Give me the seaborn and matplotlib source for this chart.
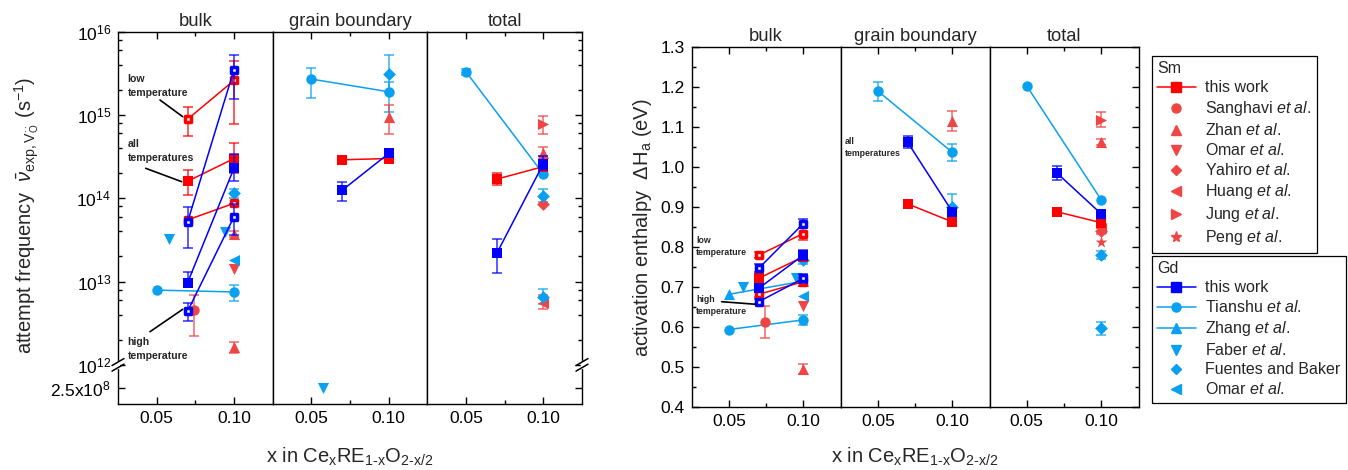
import numpy as np
import matplotlib
matplotlib.use('Agg')
import matplotlib.pyplot as plt
from matplotlib.lines import Line2D
from matplotlib.ticker import FixedLocator, FixedFormatter, FormatStrFormatter, MultipleLocator
import seaborn as sns

# ---------------- data ----------------
# x positions (mole fraction)
x_tw = [0.07, 0.10]          # this work
x_ts = [0.05, 0.10]          # Tianshu / Zhang
x_010 = [0.10]
x_010b = [0.10, 0.10]
x_sanghavi = [0.074]
x_faber_nu = [0.058, 0.094]
x_faber_gb = [0.0575]
x_faber_dh = [0.0597, 0.0948]

# attempt frequency (s^-1) -- bulk
nu_bulk_sm_low = [8.9e14, 2.6e15]
nu_bulk_sm_low_lo = [5.6e14, 7.9e14]
nu_bulk_sm_low_hi = [1.24e15, 4.5e15]
nu_bulk_sm_all = [1.6e14, 3.0e14]
nu_bulk_sm_all_lo = [1.1e14, 2.0e14]
nu_bulk_sm_all_hi = [2.2e14, 4.6e14]
nu_bulk_sm_high = [5.5e13, 8.7e13]
nu_bulk_gd_low = [5.2e13, 3.5e15]
nu_bulk_gd_low_lo = [2.5e13, 1.55e15]
nu_bulk_gd_low_hi = [7.8e13, 5.3e15]
nu_bulk_gd_all = [9.7e12, 2.3e14]
nu_bulk_gd_all_lo = [8.5e12, 1.6e14]
nu_bulk_gd_all_hi = [1.3e13, 3.4e14]
nu_bulk_gd_high = [4.4e12, 6.0e13]
nu_bulk_gd_high_lo = [3.4e12, 3.6e13]
nu_bulk_gd_high_hi = [5.5e12, 8.5e13]
nu_bulk_tianshu = [7.9e12, 7.5e12]
nu_bulk_tianshu_lo = [7.9e12, 5.8e12]
nu_bulk_tianshu_hi = [7.9e12, 9.1e12]
nu_bulk_sanghavi = [4.6e12]
nu_bulk_sanghavi_lo = [2.2e12]
nu_bulk_sanghavi_hi = [6.9e12]
nu_bulk_zhan = [3.7e13, 1.65e12]
nu_bulk_zhan_lo = [3.4e13, 1.4e12]
nu_bulk_zhan_hi = [4.1e13, 1.9e12]
nu_bulk_omar_sm = [1.4e13]
nu_bulk_faber = [3.2e13, 3.9e13]
nu_bulk_fuentes = [1.15e14]
nu_bulk_fuentes_lo = [1.0e14]
nu_bulk_fuentes_hi = [1.3e14]
nu_bulk_omar_gd = [1.8e13]

# attempt frequency -- grain boundary
nu_gb_sm = [2.9e14, 3.0e14]
nu_gb_sm_lo = [2.6e14, 3.0e14]
nu_gb_sm_hi = [3.2e14, 3.0e14]
nu_gb_gd = [1.25e14, 3.45e14]
nu_gb_gd_lo = [9.4e13, 3.45e14]
nu_gb_gd_hi = [1.55e14, 3.45e14]
nu_gb_tianshu = [2.7e15, 1.9e15]
nu_gb_tianshu_lo = [1.6e15, 1.1e15]
nu_gb_tianshu_hi = [3.7e15, 2.5e15]
nu_gb_fuentes = [3.1e15]
nu_gb_fuentes_lo = [1.9e15]
nu_gb_fuentes_hi = [5.2e15]
nu_gb_zhan = [9.5e14]
nu_gb_zhan_lo = [5.9e14]
nu_gb_zhan_hi = [1.3e15]
nu_gb_faber = [2.5e8]

# attempt frequency -- total
nu_tot_sm = [1.7e14, 2.4e14]
nu_tot_sm_lo = [1.45e14, 2.4e14]
nu_tot_sm_hi = [2.0e14, 2.4e14]
nu_tot_gd = [2.2e13, 2.6e14]
nu_tot_gd_lo = [1.26e13, 2.2e14]
nu_tot_gd_hi = [3.2e13, 3.2e14]
nu_tot_tianshu = [3.3e15, 1.95e14]
nu_tot_tianshu_lo = [3.0e15, 1.95e14]
nu_tot_tianshu_hi = [3.6e15, 1.95e14]
nu_tot_jung = [7.8e14]
nu_tot_jung_lo = [5.9e14]
nu_tot_jung_hi = [9.6e14]
nu_tot_zhan = [3.5e14]
nu_tot_zhan_lo = [3.2e14]
nu_tot_zhan_hi = [4.1e14]
nu_tot_fuentes = [1.07e14, 6.5e12]
nu_tot_fuentes_lo = [8.9e13, 5.4e12]
nu_tot_fuentes_hi = [1.3e14, 8.1e12]
nu_tot_yahiro = [8.6e13]
nu_tot_huang = [5.5e12]
nu_tot_huang_lo = [4.7e12]
nu_tot_huang_hi = [6.9e12]

nu_ticks = [2.5e8, 1e12, 1e13, 1e14, 1e15, 1e16]
nu_ticklabels = ['2.5x10$^8$', '10$^{12}$', '10$^{13}$', '10$^{14}$', '10$^{15}$', '10$^{16}$']

# activation enthalpy (eV) -- bulk
dh_bulk_sm_low = [0.779, 0.833]
dh_bulk_sm_low_err = [0.008, 0.015]
dh_bulk_sm_all = [0.721, 0.775]
dh_bulk_sm_all_err = [0.008, 0.010]
dh_bulk_sm_high = [0.681, 0.7125]
dh_bulk_sm_high_err = [0.007, 0.010]
dh_bulk_gd_low = [0.746, 0.858]
dh_bulk_gd_low_err = [0.010, 0.012]
dh_bulk_gd_all = [0.696, 0.779]
dh_bulk_gd_all_err = [0.008, 0.013]
dh_bulk_gd_high = [0.6625, 0.721]
dh_bulk_gd_high_err = [0.006, 0.012]
dh_bulk_tianshu = [0.593, 0.617]
dh_bulk_tianshu_err = [0.0, 0.013]
dh_bulk_zhang = [0.681, 0.714]
dh_bulk_faber = [0.699, 0.723]
dh_bulk_sanghavi = [0.612]
dh_bulk_sanghavi_err = [0.039]
dh_bulk_fuentes = [0.767]
dh_bulk_fuentes_err = [0.010]
dh_bulk_omar_gd = [0.677]
dh_bulk_omar_sm = [0.652]
dh_bulk_zhan = [0.495]
dh_bulk_zhan_err = [0.013]

# activation enthalpy -- grain boundary
dh_gb_sm = [0.907, 0.862]
dh_gb_gd = [1.061, 0.8875]
dh_gb_gd_err = [0.015, 0.010]
dh_gb_tianshu = [1.189, 1.036]
dh_gb_tianshu_err = [0.024, 0.021]
dh_gb_zhan = [1.115]
dh_gb_zhan_err = [0.025]
dh_gb_fuentes = [0.900]
dh_gb_fuentes_err = [0.033]

# activation enthalpy -- total
dh_tot_sm = [0.8875, 0.860]
dh_tot_gd = [0.985, 0.882]
dh_tot_gd_err = [0.017, 0.0]
dh_tot_tianshu = [1.2017, 0.917]
dh_tot_jung = [1.118]
dh_tot_jung_err = [0.018]
dh_tot_zhan = [1.0625]
dh_tot_zhan_err = [0.008]
dh_tot_yahiro = [0.840]
dh_tot_yahiro_err = [0.008]
dh_tot_huang = [0.848]
dh_tot_peng = [0.811]
dh_tot_fuentes = [0.779, 0.596]
dh_tot_fuentes_err = [0.010, 0.017]

sections = ['bulk', 'grain boundary', 'total']
sm_labels = ['this work', r'Sanghavi $\mathit{et\ al.}$', r'Zhan $\mathit{et\ al.}$',
             r'Omar $\mathit{et\ al.}$', r'Yahiro $\mathit{et\ al.}$', r'Huang $\mathit{et\ al.}$',
             r'Jung $\mathit{et\ al.}$', r'Peng $\mathit{et\ al.}$']
gd_labels = ['this work', r'Tianshu $\mathit{et\ al.}$', r'Zhang $\mathit{et\ al.}$',
             r'Faber $\mathit{et\ al.}$', 'Fuentes and Baker', r'Omar $\mathit{et\ al.}$']

# ---------------- style ----------------
RED = '#ff0000'
LRED = '#f04545'
BLUE = '#0000ff'
LBLUE = '#0aa0f0'

sns.set_theme(style='ticks', rc={'axes.edgecolor': 'black', 'xtick.color': 'black',
                                 'ytick.color': 'black', 'axes.linewidth': 1.0})
plt.rcParams['font.family'] = ['Liberation Sans', 'DejaVu Sans']
plt.rcParams['mathtext.fontset'] = 'custom'
plt.rcParams['mathtext.rm'] = 'Liberation Sans'
plt.rcParams['mathtext.it'] = 'Liberation Sans:italic'
plt.rcParams['mathtext.bf'] = 'Liberation Sans:bold'

W, H = 1348, 470
fig = plt.figure(figsize=(W / 100, H / 100), dpi=100)

# broken log axis: below 1e12 the scale is compressed
K = 0.076
YBOT = 11.53


def fwd(v):
    lv = np.log10(np.clip(np.asarray(v, dtype=float), 1e-300, None))
    return np.where(lv >= 12, lv, 12 - (12 - lv) * K)


def inv(y):
    y = np.asarray(y, dtype=float)
    with np.errstate(over='ignore', under='ignore'):
        return np.where(y >= 12, 10.0 ** y, 10.0 ** (12 - (12 - y) / K))


def pm(v, e):
    v = np.asarray(v, float)
    e = np.asarray(e, float)
    return v - e, v + e


def mark(ax, x, y, m, c, lo=None, hi=None, line=False, hollow=False, ms=7.5, z=3):
    x = np.asarray(x, float)
    y = np.asarray(y, float)
    if lo is not None:
        lo = np.asarray(lo, float)
        hi = np.asarray(hi, float)
        k = hi > lo
        if k.any():
            ax.errorbar(x[k], y[k], yerr=[y[k] - lo[k], hi[k] - y[k]], fmt='none', ecolor=c,
                        elinewidth=1.2, capsize=3.5, capthick=1.2, alpha=0.75, zorder=z - 0.5)
    if line:
        sns.lineplot(x=x, y=y, ax=ax, color=c, lw=1.1, estimator=None, sort=False,
                     errorbar=None, zorder=z - 0.2)
    if hollow:
        sns.scatterplot(x=x, y=y, ax=ax, marker=m, s=5.0 ** 2, color='white',
                        edgecolor=c, linewidth=2.5, zorder=z, legend=False)
    else:
        sns.scatterplot(x=x, y=y, ax=ax, marker=m, s=ms ** 2, color=c,
                        edgecolor=c, linewidth=0, zorder=z, legend=False)


def panel(x0, x1, ytop, ybot):
    w = (x1 - x0) / 3
    return [fig.add_axes([(x0 + i * w) / W, 1 - ybot / H, w / W, (ybot - ytop) / H]) for i in range(3)]


axL = panel(118, 582, 31.7, 404)
axR = panel(691.7, 1138.5, 46.7, 406.7)

# ---------------- left panel: attempt frequency ----------------
ax = axL[0]
mark(ax, x_ts, nu_bulk_tianshu, 'o', LBLUE, nu_bulk_tianshu_lo, nu_bulk_tianshu_hi, line=True)
mark(ax, x_sanghavi, nu_bulk_sanghavi, 'o', LRED, nu_bulk_sanghavi_lo, nu_bulk_sanghavi_hi)
mark(ax, x_010b, nu_bulk_zhan, '^', LRED, nu_bulk_zhan_lo, nu_bulk_zhan_hi, ms=8)
mark(ax, x_010, nu_bulk_omar_sm, 'v', LRED, ms=8)
mark(ax, x_faber_nu, nu_bulk_faber, 'v', LBLUE, ms=8)
mark(ax, x_010, nu_bulk_fuentes, 'D', LBLUE, nu_bulk_fuentes_lo, nu_bulk_fuentes_hi, ms=6.5)
mark(ax, x_010, nu_bulk_omar_gd, '<', LBLUE, ms=8)
mark(ax, x_tw, nu_bulk_sm_low, 's', RED, nu_bulk_sm_low_lo, nu_bulk_sm_low_hi, line=True, hollow=True, z=4)
mark(ax, x_tw, nu_bulk_sm_all, 's', RED, nu_bulk_sm_all_lo, nu_bulk_sm_all_hi, line=True, z=4)
mark(ax, x_tw, nu_bulk_sm_high, 's', RED, line=True, hollow=True, z=4)
mark(ax, x_tw, nu_bulk_gd_low, 's', BLUE, nu_bulk_gd_low_lo, nu_bulk_gd_low_hi, line=True, hollow=True, z=5)
mark(ax, x_tw, nu_bulk_gd_all, 's', BLUE, nu_bulk_gd_all_lo, nu_bulk_gd_all_hi, line=True, z=5)
mark(ax, x_tw, nu_bulk_gd_high, 's', BLUE, nu_bulk_gd_high_lo, nu_bulk_gd_high_hi, line=True, hollow=True, z=5)

ax = axL[1]
mark(ax, x_ts, nu_gb_tianshu, 'o', LBLUE, nu_gb_tianshu_lo, nu_gb_tianshu_hi, line=True)
mark(ax, x_010, nu_gb_fuentes, 'D', LBLUE, nu_gb_fuentes_lo, nu_gb_fuentes_hi, ms=6.5)
mark(ax, x_010, nu_gb_zhan, '^', LRED, nu_gb_zhan_lo, nu_gb_zhan_hi, ms=8)
mark(ax, x_faber_gb, nu_gb_faber, 'v', LBLUE, ms=8)
mark(ax, x_tw, nu_gb_sm, 's', RED, nu_gb_sm_lo, nu_gb_sm_hi, line=True, z=4)
mark(ax, x_tw, nu_gb_gd, 's', BLUE, nu_gb_gd_lo, nu_gb_gd_hi, line=True, z=5)

ax = axL[2]
mark(ax, x_ts, nu_tot_tianshu, 'o', LBLUE, nu_tot_tianshu_lo, nu_tot_tianshu_hi, line=True)
mark(ax, x_010, nu_tot_jung, '>', LRED, nu_tot_jung_lo, nu_tot_jung_hi, ms=8)
mark(ax, x_010, nu_tot_zhan, '^', LRED, nu_tot_zhan_lo, nu_tot_zhan_hi, ms=8)
mark(ax, x_010, nu_tot_yahiro, 'D', LRED, ms=6.5)
mark(ax, x_010, nu_tot_huang, '<', LRED, nu_tot_huang_lo, nu_tot_huang_hi, ms=8)
mark(ax, x_010b, nu_tot_fuentes, 'D', LBLUE, nu_tot_fuentes_lo, nu_tot_fuentes_hi, ms=6.5)
mark(ax, x_tw, nu_tot_sm, 's', RED, nu_tot_sm_lo, nu_tot_sm_hi, line=True, z=4)
mark(ax, x_tw, nu_tot_gd, 's', BLUE, nu_tot_gd_lo, nu_tot_gd_hi, line=True, z=5)

nu_minor = [m * 10.0 ** e for e in range(12, 16) for m in (2, 4, 6, 8)]
for i, ax in enumerate(axL):
    ax.set_yscale('function', functions=(fwd, inv))
    ax.set_ylim(inv(YBOT), 1e16)
    ax.yaxis.set_major_locator(FixedLocator(nu_ticks))
    ax.yaxis.set_major_formatter(FixedFormatter(nu_ticklabels))
    ax.yaxis.set_minor_locator(FixedLocator(nu_minor))

# ---------------- right panel: activation enthalpy ----------------
ax = axR[0]
mark(ax, x_ts, dh_bulk_tianshu, 'o', LBLUE, *pm(dh_bulk_tianshu, dh_bulk_tianshu_err), line=True)
mark(ax, x_ts, dh_bulk_zhang, '^', LBLUE, line=True, ms=8)
mark(ax, x_faber_dh, dh_bulk_faber, 'v', LBLUE, ms=8)
mark(ax, x_sanghavi, dh_bulk_sanghavi, 'o', LRED, *pm(dh_bulk_sanghavi, dh_bulk_sanghavi_err))
mark(ax, x_010, dh_bulk_fuentes, 'D', LBLUE, *pm(dh_bulk_fuentes, dh_bulk_fuentes_err), ms=6.5)
mark(ax, x_010, dh_bulk_omar_gd, '<', LBLUE, ms=8)
mark(ax, x_010, dh_bulk_omar_sm, 'v', LRED, ms=8)
mark(ax, x_010, dh_bulk_zhan, '^', LRED, *pm(dh_bulk_zhan, dh_bulk_zhan_err), ms=8)
mark(ax, x_tw, dh_bulk_sm_low, 's', RED, *pm(dh_bulk_sm_low, dh_bulk_sm_low_err), line=True, hollow=True, z=4)
mark(ax, x_tw, dh_bulk_sm_all, 's', RED, *pm(dh_bulk_sm_all, dh_bulk_sm_all_err), line=True, z=4)
mark(ax, x_tw, dh_bulk_sm_high, 's', RED, *pm(dh_bulk_sm_high, dh_bulk_sm_high_err), line=True, hollow=True, z=4)
mark(ax, x_tw, dh_bulk_gd_low, 's', BLUE, *pm(dh_bulk_gd_low, dh_bulk_gd_low_err), line=True, hollow=True, z=5)
mark(ax, x_tw, dh_bulk_gd_all, 's', BLUE, *pm(dh_bulk_gd_all, dh_bulk_gd_all_err), line=True, z=5)
mark(ax, x_tw, dh_bulk_gd_high, 's', BLUE, *pm(dh_bulk_gd_high, dh_bulk_gd_high_err), line=True, hollow=True, z=5)

ax = axR[1]
mark(ax, x_ts, dh_gb_tianshu, 'o', LBLUE, *pm(dh_gb_tianshu, dh_gb_tianshu_err), line=True)
mark(ax, x_010, dh_gb_zhan, '^', LRED, *pm(dh_gb_zhan, dh_gb_zhan_err), ms=8)
mark(ax, x_010, dh_gb_fuentes, 'D', LBLUE, *pm(dh_gb_fuentes, dh_gb_fuentes_err), ms=6.5)
mark(ax, x_tw, dh_gb_sm, 's', RED, line=True, z=4)
mark(ax, x_tw, dh_gb_gd, 's', BLUE, *pm(dh_gb_gd, dh_gb_gd_err), line=True, z=5)

ax = axR[2]
mark(ax, x_ts, dh_tot_tianshu, 'o', LBLUE, line=True)
mark(ax, x_010, dh_tot_jung, '>', LRED, *pm(dh_tot_jung, dh_tot_jung_err), ms=8)
mark(ax, x_010, dh_tot_zhan, '^', LRED, *pm(dh_tot_zhan, dh_tot_zhan_err), ms=8)
mark(ax, x_010, dh_tot_huang, '<', LRED, ms=8)
mark(ax, x_010, dh_tot_yahiro, 'D', LRED, *pm(dh_tot_yahiro, dh_tot_yahiro_err), ms=6.5)
mark(ax, x_010, dh_tot_peng, '*', LRED, ms=9)
mark(ax, x_010b, dh_tot_fuentes, 'D', LBLUE, *pm(dh_tot_fuentes, dh_tot_fuentes_err), ms=6.5)
mark(ax, x_tw, dh_tot_sm, 's', RED, line=True, z=4)
mark(ax, x_tw, dh_tot_gd, 's', BLUE, *pm(dh_tot_gd, dh_tot_gd_err), line=True, z=5)

for ax in axR:
    ax.set_ylim(0.4, 1.3)
    ax.yaxis.set_major_locator(MultipleLocator(0.1))
    ax.yaxis.set_minor_locator(MultipleLocator(0.05))
    ax.yaxis.set_major_formatter(FormatStrFormatter('%.1f'))

# ---------------- common axis styling ----------------
for axs in (axL, axR):
    for i, ax in enumerate(axs):
        ax.set_xlim(0.025, 0.125)
        ax.xaxis.set_major_locator(FixedLocator([0.05, 0.10]))
        ax.xaxis.set_minor_locator(FixedLocator([0.075]))
        ax.xaxis.set_major_formatter(FormatStrFormatter('%.2f'))
        ax.tick_params(which='both', direction='in', top=True, bottom=True,
                       left=(i == 0), right=(i == 2), labelleft=(i == 0),
                       labelright=False, labelsize=12.5, width=1, colors='black')
        ax.tick_params(which='major', length=5, pad=5)
        ax.tick_params(which='minor', length=2.8)
        ax.set_xlabel('')
        ax.set_ylabel('')
        ax.set_title(sections[i], fontsize=13.2, pad=4)
        for s in ax.spines.values():
            s.set_linewidth(1.0)
            s.set_color('black')

xlab = 'x in Ce$_\\mathrm{x}$RE$_\\mathrm{1\u2010x}$O$_\\mathrm{2\u2010x/2}$'
fig.text(350 / W, 1 - 457 / H, xlab, ha='center', va='center', fontsize=14.5)
fig.text(915 / W, 1 - 457 / H, xlab, ha='center', va='center', fontsize=14.5)
fig.text(27 / W, 1 - 215 / H,
         r'attempt frequency  $\bar{\nu}_{\mathrm{exp,V}_\mathrm{O}^{\cdot\cdot}}$ (s$^{-1}$)',
         rotation=90, ha='center', va='center', fontsize=14.5)
fig.text(642 / W, 1 - 228 / H, r'activation enthalpy  $\Delta\mathrm{H}_\mathrm{a}$ (eV)',
         rotation=90, ha='center', va='center', fontsize=14.5)

# axis break marks at 1e12
hpx = 404 - 31.7
wpx = (582 - 118) / 3
ya = (12 - YBOT) / (16 - YBOT)
for ax, xa in ((axL[0], 0.0), (axL[2], 1.0)):
    ax.plot([xa, xa], [ya - 2.5 / hpx, ya + 2.5 / hpx], color='white', lw=2.5,
            transform=ax.transAxes, clip_on=False, zorder=10)
    for off in (-2.8, 2.8):
        ax.plot([xa - 6 / wpx, xa + 6 / wpx], [ya + (off - 3.5) / hpx, ya + (off + 3.5) / hpx],
                color='black', lw=1.1, transform=ax.transAxes, clip_on=False, zorder=11)

# annotations
def note(x, y, s, fs):
    fig.text(x / W, 1 - y / H, s, ha='left', va='top', fontsize=fs, fontweight='bold',
             linespacing=1.45)


def leader(x0, y0, x1, y1):
    fig.add_artist(Line2D([x0 / W, x1 / W], [1 - y0 / H, 1 - y1 / H], color='black', lw=1.2,
                          transform=fig.transFigure))


note(127.7, 74, 'low\ntemperature', 7.6)
note(127.7, 139, 'all\ntemperatures', 7.6)
note(127.7, 337, 'high\ntemperature', 7.6)
leader(160, 100, 182.7, 116.7)
leader(145.7, 168.3, 181.7, 181.7)
leader(150, 331.7, 182.7, 309.3)
note(696, 236, 'low\ntemperature', 6.3)
note(696, 295, 'high\ntemperature', 6.3)
note(845, 137, 'all\ntemperatures', 6.3)
leader(721.7, 301.7, 756, 304.3)

# legends
sm_handles = [Line2D([], [], color=RED, marker='s', ms=6.5, lw=1.1)] + [
    Line2D([], [], color=LRED, marker=m, ms=ms, ls='none')
    for m, ms in (('o', 6.5), ('^', 7), ('v', 7), ('D', 5.5), ('<', 7), ('>', 7), ('*', 8))]
gd_handles = [Line2D([], [], color=BLUE, marker='s', ms=6.5, lw=1.1),
              Line2D([], [], color=LBLUE, marker='o', ms=6.5, lw=1.1),
              Line2D([], [], color=LBLUE, marker='^', ms=7, lw=1.1)] + [
    Line2D([], [], color=LBLUE, marker=m, ms=ms, ls='none')
    for m, ms in (('v', 7), ('D', 5.5), ('<', 7))]

for handles, labels, title, top in ((sm_handles, sm_labels, 'Sm', 55.7),
                                    (gd_handles, gd_labels, 'Gd', 255.7)):
    leg = fig.legend(handles, labels, title=title, loc='upper left',
                     bbox_to_anchor=(1151.7 / W, 1 - top / H), bbox_transform=fig.transFigure,
                     borderaxespad=0, frameon=True, fancybox=False, edgecolor='black',
                     framealpha=1, fontsize=11.5, title_fontsize=11.5, alignment='left',
                     handlelength=2.4, handletextpad=0.6, borderpad=0.35, labelspacing=0.25)
    leg.get_frame().set_linewidth(0.9)

fig.savefig('out.png', dpi=100)
